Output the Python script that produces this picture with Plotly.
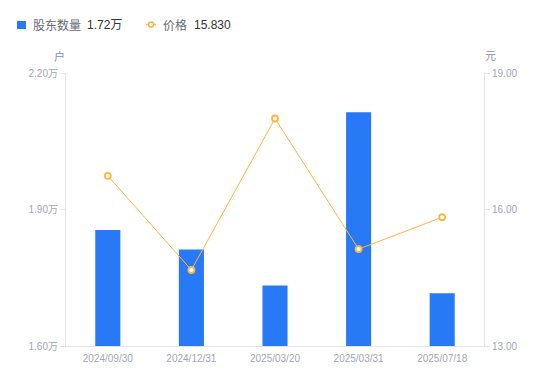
import plotly.graph_objects as go

dates = ["2024/09/30", "2024/12/31", "2025/03/20", "2025/03/31", "2025/07/18"]
holders_wan = [1.855, 1.812, 1.733, 2.114, 1.716]   # 股东数量 (万户)
price = [16.74, 14.67, 18.00, 15.13, 15.83]        # 价格 (元)
left_ticks = [1.60, 1.90, 2.20]
right_ticks = [13.00, 16.00, 19.00]

BLUE = "#2779F5"
ORANGE = "#FFB53E"
TICK_C = "#A3A6B4"
AXIS_C = "#E3E4E8"
FONT = "Liberation Sans, Noto Sans CJK SC, sans-serif"

fig = go.Figure()
fig.add_trace(go.Bar(
    x=dates, y=holders_wan, name="股东数量", marker=dict(color=BLUE, line=dict(width=0)),
    width=0.3, yaxis="y"))
fig.add_trace(go.Scatter(
    x=dates, y=price, name="价格", mode="lines+markers", yaxis="y2",
    line=dict(color=ORANGE, width=1),
    marker=dict(symbol="circle", size=6, color="white", line=dict(color=ORANGE, width=1.8))))

fig.update_layout(
    width=550, height=381,
    margin=dict(l=66, r=66, t=73, b=35),
    paper_bgcolor="white", plot_bgcolor="white",
    showlegend=False,
    font=dict(family=FONT, size=10, color=TICK_C),
    xaxis=dict(type="category", showgrid=False, showline=True, linecolor=AXIS_C, linewidth=1,
               ticks="", ticklabelstandoff=3, tickfont=dict(size=10, color=TICK_C), zeroline=False),
    yaxis=dict(range=[1.6, 2.2], tickvals=left_ticks,
               ticktext=[f"{v:.2f}万" for v in left_ticks],
               showgrid=False, showline=True, linecolor=AXIS_C, linewidth=1,
               ticks="outside", ticklen=5, tickcolor=AXIS_C, zeroline=False,
               tickfont=dict(size=10, color=TICK_C)),
    yaxis2=dict(range=[13, 19], tickvals=right_ticks,
                ticktext=[f"{v:.2f}" for v in right_ticks],
                overlaying="y", side="right",
                showgrid=False, showline=True, linecolor=AXIS_C, linewidth=1,
                ticks="outside", ticklen=5, tickcolor=AXIS_C, zeroline=False,
                tickfont=dict(size=10, color=TICK_C)),
)

# axis unit titles
fig.add_annotation(text="户", xref="paper", yref="paper", x=0, y=1, xanchor="center", yanchor="middle",
                   xshift=-7, yshift=17, showarrow=False,
                   font=dict(size=11, color="#8E919F", family=FONT))
fig.add_annotation(text="元", xref="paper", yref="paper", x=1, y=1, xanchor="center", yanchor="middle",
                   xshift=6, yshift=17, showarrow=False,
                   font=dict(size=11, color="#8E919F", family=FONT))

# custom legend
fig.add_shape(type="rect", xref="x domain", yref="y domain",
              xsizemode="pixel", ysizemode="pixel", xanchor=0, yanchor=1,
              x0=-49, x1=-40, y0=44, y1=52, fillcolor=BLUE, line=dict(width=0))
fig.add_shape(type="line", xref="x domain", yref="y domain",
              xsizemode="pixel", ysizemode="pixel", xanchor=0, yanchor=1,
              x0=80, x1=90, y0=48.5, y1=48.5, line=dict(color=ORANGE, width=1.5))
fig.add_shape(type="circle", xref="x domain", yref="y domain",
              xsizemode="pixel", ysizemode="pixel", xanchor=0, yanchor=1,
              x0=82.5, x1=87.5, y0=46, y1=51, fillcolor="white", line=dict(color=ORANGE, width=1.5))

legend_items = [
    ("股东数量", "#666A75", 31),
    (f"{holders_wan[-1]:.2f}万", "#333333", 85),
    ("价格", "#666A75", 161),
    (f"{price[-1]:.3f}", "#333333", 192),
]
for txt, col, px in legend_items:
    fig.add_annotation(text=txt, xref="paper", yref="paper", x=0, y=1,
                       xanchor="left", yanchor="middle",
                       xshift=px - 66, yshift=73 - 25, showarrow=False,
                       font=dict(size=12, color=col, family=FONT))

fig.write_html("out.html", config={"displayModeBar": False},
               post_script="document.body.style.margin='0';document.body.style.overflow='hidden';")
